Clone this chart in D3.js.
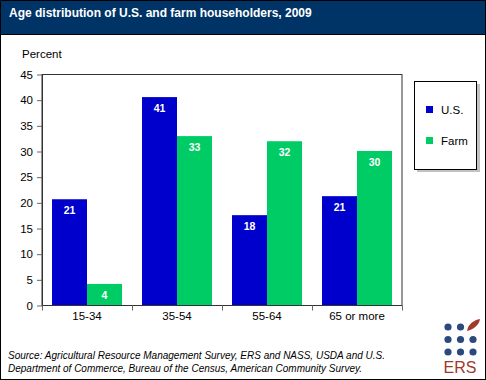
<!DOCTYPE html>
<html><head><meta charset="utf-8">
<script src="https://cdn.jsdelivr.net/npm/d3@7"></script>
<style>html,body{margin:0;padding:0;background:#fff;}svg{display:block;font-family:Arial,"Liberation Sans",sans-serif;}</style>
</head><body>
<script>
const categories = ["15-34", "35-54", "55-64", "65 or more"];
const seriesNames = ["U.S.", "Farm"];
const usValues = [20.7, 40.6, 17.6, 21.3];
const farmValues = [4.2, 33.0, 32.0, 30.1];
const usLabels = ["21", "41", "18", "21"];
const farmLabels = ["4", "33", "32", "30"];
const yTicks = [0, 5, 10, 15, 20, 25, 30, 35, 40, 45];
const colors = ["#0000CC", "#00CC66"];

const W = 486, H = 380;
const svg = d3.select("body").append("svg").attr("width", W).attr("height", H);
svg.append("rect").attr("x",0.5).attr("y",0.5).attr("width",W-1).attr("height",H-1).attr("fill","#fff").attr("stroke","#000");
svg.append("rect").attr("x",1).attr("y",1).attr("width",W-2).attr("height",33).attr("fill","#003366");
svg.append("line").attr("x1",1).attr("x2",W-1).attr("y1",34.5).attr("y2",34.5).attr("stroke","#000");
svg.append("text").attr("x",9).attr("y",17).attr("fill","#fff").attr("font-weight","bold").attr("font-size",12).text("Age distribution of U.S. and farm householders, 2009");

const m = {l:42, r:402, t:74.5, b:305.5};
const x = d3.scaleBand().domain(categories).range([m.l, m.r]).paddingInner(0).paddingOuter(0);
const xs = d3.scaleBand().domain(seriesNames).range([0, x.bandwidth()]).paddingInner(0).paddingOuter(0.2857);
const y = d3.scaleLinear().domain([0,45]).range([m.b, m.t]);

const data = categories.map((c,i)=>({c, vals:[{s:"U.S.", v:usValues[i], l:usLabels[i], k:0},{s:"Farm", v:farmValues[i], l:farmLabels[i], k:1}]}));

const g = svg.append("g");
const grp = g.selectAll("g.cat").data(data).join("g").attr("transform", d=>`translate(${x(d.c)},0)`);
grp.selectAll("rect").data(d=>d.vals).join("rect")
  .attr("x", d=>xs(d.s)).attr("width", xs.bandwidth())
  .attr("y", d=>y(d.v)).attr("height", d=>y(0)-y(d.v))
  .attr("fill", d=>colors[d.k]);
grp.selectAll("text").data(d=>d.vals).join("text")
  .attr("x", d=>xs(d.s)+xs.bandwidth()/2).attr("y", d=>y(d.v)+15)
  .attr("text-anchor","middle").attr("fill","#fff").attr("font-weight","bold").attr("font-size",10.5)
  .text(d=>d.l);

// frame
svg.append("rect").attr("x",m.l).attr("y",m.t).attr("width",m.r-m.l).attr("height",m.b-m.t).attr("fill","none").attr("stroke","#333").attr("stroke-width",1);

const yAxis = svg.append("g").attr("transform",`translate(${m.l},0)`)
  .call(d3.axisLeft(y).tickValues(yTicks).tickSize(5).tickSizeOuter(0).tickPadding(4));
yAxis.select(".domain").attr("stroke","#333");
yAxis.selectAll("line").attr("stroke","#666");
yAxis.selectAll("text").attr("font-size",11.5).attr("fill","#000").attr("font-family","Arial,'Liberation Sans',sans-serif");

const xAxis = svg.append("g").attr("transform",`translate(0,${m.b})`)
  .call(d3.axisBottom(x).tickSize(0).tickPadding(6));
xAxis.select(".domain").remove();
xAxis.selectAll("text").attr("font-size",11.5).attr("fill","#000").attr("font-family","Arial,'Liberation Sans',sans-serif");
const bounds = [0,1,2,3,4].map(i=>m.l + i*x.step());
svg.selectAll("line.xt").data(bounds).join("line").attr("class","xt")
  .attr("x1",d=>d+0.5).attr("x2",d=>d+0.5).attr("y1",m.b).attr("y2",m.b+5).attr("stroke","#666");

svg.append("text").attr("x",22).attr("y",58).attr("font-size",11.5).text("Percent");

// legend
svg.append("rect").attr("x",417).attr("y",84).attr("width",63).attr("height",88).attr("fill","#999").attr("opacity",0.6);
svg.append("rect").attr("x",414.5).attr("y",81.5).attr("width",62).attr("height",88).attr("fill","#fff").attr("stroke","#000");
const lg = svg.selectAll("g.lg").data(seriesNames).join("g").attr("class","lg").attr("transform",(d,i)=>`translate(426,${106+i*31})`);
lg.append("rect").attr("width",7).attr("height",7).attr("fill",(d,i)=>colors[i]);
lg.append("text").attr("x",15).attr("y",7.5).attr("font-size",11.5).text(d=>d);

// source
const src = svg.append("text").attr("font-size",10).attr("font-style","italic");
src.append("tspan").attr("x",8).attr("y",359).text("Source: Agricultural Resource Management Survey, ERS and NASS, USDA and U.S.");
src.append("tspan").attr("x",8).attr("y",372).text("Department of Commerce, Bureau of the Census, American Community Survey.");

// ERS logo
const dots = [];
for (let r=0;r<3;r++) for (let c=0;c<3;c++) if(!(r===0&&c===2)) dots.push([448+c*12.5, 327+r*12.5]);
svg.selectAll("circle.dot").data(dots).join("circle").attr("class","dot").attr("cx",d=>d[0]).attr("cy",d=>d[1]).attr("r",3.6).attr("fill","#2a4a7f");
svg.append("path").attr("d","M467,331 C468,324 474,320 480,319 C479,325 474,329 467,331 Z").attr("fill","#a0392a");
svg.append("text").attr("x",460).attr("y",373).attr("text-anchor","middle").attr("font-size",16).attr("fill","#a0392a").text("ERS");
</script>
</body></html>
